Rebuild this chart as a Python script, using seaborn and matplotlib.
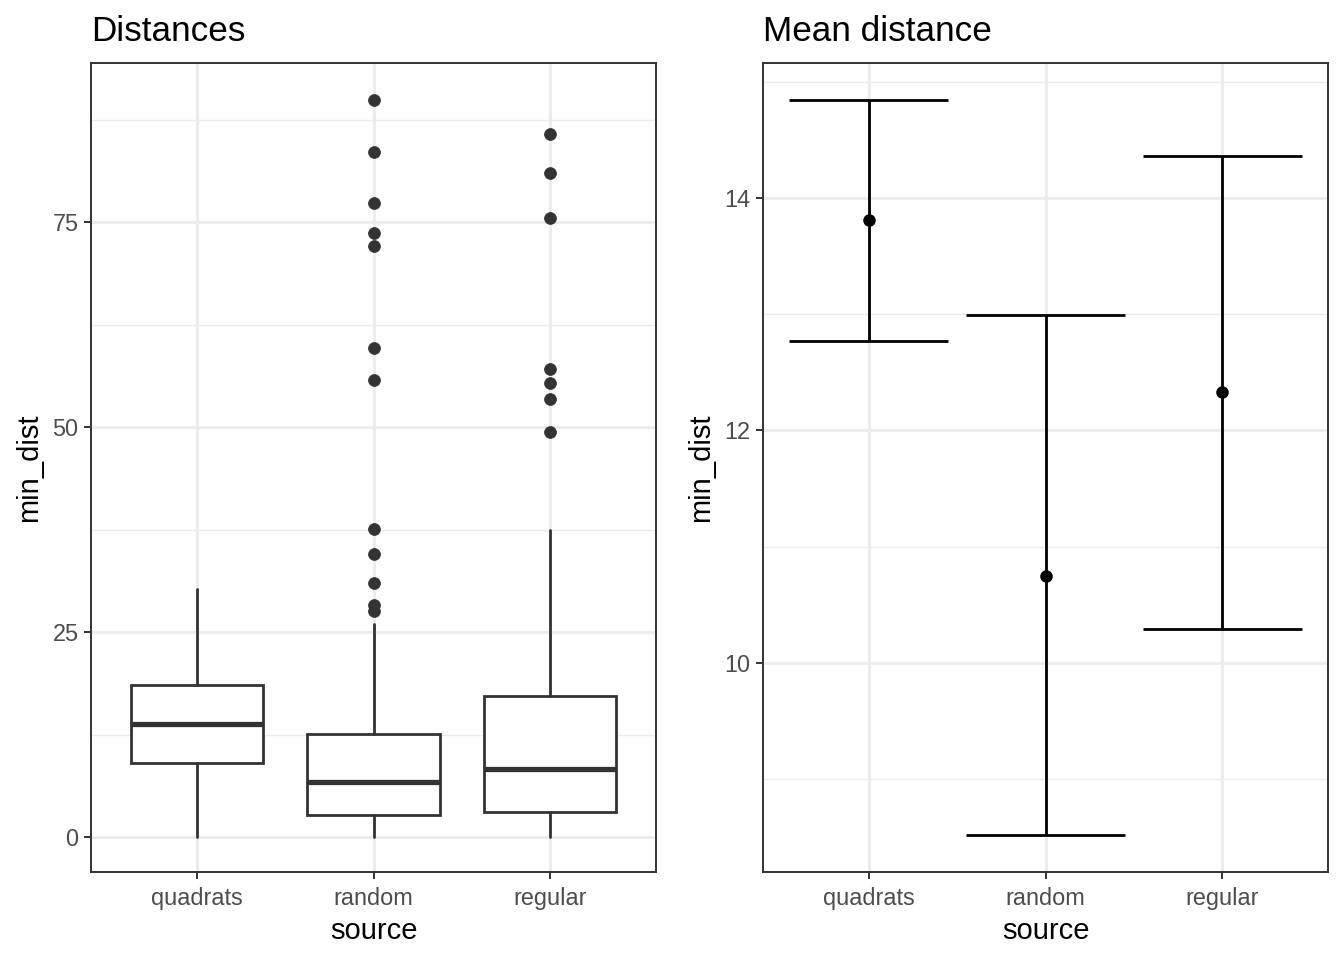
import matplotlib
matplotlib.use("Agg")
import matplotlib.pyplot as plt
import seaborn as sns
import numpy as np
import pandas as pd

# ---- data ----
categories = ["quadrats", "random", "regular"]
box_q1 = [9.05, 2.65, 3.0]
box_median = [13.8, 6.7, 8.35]
box_q3 = [18.5, 12.55, 17.2]
whisker_low = [0.0, 0.0, 0.0]
whisker_high = [30.3, 26.0, 37.4]
fliers_quadrats = []
fliers_random = [89.9, 83.6, 77.3, 73.7, 72.1, 59.6, 55.7, 37.6, 34.5, 31.0, 28.3, 27.6]
fliers_regular = [85.7, 81.0, 75.5, 57.1, 55.4, 53.4, 49.4]

mean_dist = [13.81, 10.75, 12.33]
ci_low = [12.77, 8.52, 10.29]
ci_high = [14.84, 12.99, 14.36]

# ---- style ----
sns.set_theme(style="white")
plt.rcParams["font.family"] = ["Liberation Sans", "DejaVu Sans"]

GRID = "#EBEBEB"
DARK = "#333333"
TICKTXT = "#4D4D4D"

fig = plt.figure(figsize=(13.44, 9.6), dpi=100)
axL = fig.add_axes([91 / 1344, 1 - 872 / 960, 565 / 1344, 809 / 960])
axR = fig.add_axes([763 / 1344, 1 - 872 / 960, 565 / 1344, 809 / 960])

def style_axes(ax, major, minor, ylim):
    ax.set_xlim(-0.6, 2.6)
    ax.set_ylim(*ylim)
    ax.set_xticks(range(len(categories)))
    ax.set_xticklabels(categories)
    ax.set_yticks(major)
    ax.set_yticks(minor, minor=True)
    ax.set_axisbelow(True)
    for v in minor:
        ax.axhline(v, color=GRID, lw=1.0, zorder=0)
    for v in major:
        ax.axhline(v, color=GRID, lw=2.0, zorder=0)
    for v in range(len(categories)):
        ax.axvline(v, color=GRID, lw=2.0, zorder=0)
    for s in ax.spines.values():
        s.set_visible(True)
        s.set_color(DARK)
        s.set_linewidth(1.4)
    ax.tick_params(axis="both", which="major", length=5, width=1.4, color=DARK,
                   labelsize=16.9, labelcolor=TICKTXT, pad=4, left=True, bottom=True)
    ax.tick_params(axis="x", which="major", pad=5.5)
    ax.tick_params(axis="y", which="minor", length=0)
    ax.grid(False)
    ax.set_xlabel("source", fontsize=21, color="black", labelpad=5)
    ax.set_ylabel("min_dist", fontsize=21, color="black", labelpad=7)

# ---- left: boxplots ----
fliers = [fliers_quadrats, fliers_random, fliers_regular]
stats = []
for i, c in enumerate(categories):
    stats.append(dict(label=c, q1=box_q1[i], med=box_median[i], q3=box_q3[i],
                      whislo=whisker_low[i], whishi=whisker_high[i],
                      fliers=np.array(fliers[i])))
axL.bxp(stats, positions=range(len(categories)), widths=0.75, showcaps=False,
        patch_artist=True,
        boxprops=dict(facecolor="white", edgecolor=DARK, linewidth=2.0),
        medianprops=dict(color=DARK, linewidth=3.8, solid_capstyle="butt"),
        whiskerprops=dict(color=DARK, linewidth=2.0),
        flierprops=dict(marker="o", markerfacecolor=DARK, markeredgecolor=DARK,
                        markersize=8.6, markeredgewidth=0.5))
style_axes(axL, [0, 25, 50, 75], [12.5, 37.5, 62.5, 87.5], (-4.27, 94.4))
axL.set_title("Distances", loc="left", fontsize=25.3, pad=16, color="black")

# ---- right: mean +/- CI ----
df = pd.DataFrame({"source": categories, "min_dist": mean_dist})
xs = np.arange(len(categories))
axR.vlines(xs, ci_low, ci_high, color="black", lw=2.0, zorder=3)
axR.hlines(ci_low, xs - 0.45, xs + 0.45, color="black", lw=2.0, zorder=3)
axR.hlines(ci_high, xs - 0.45, xs + 0.45, color="black", lw=2.0, zorder=3)
sns.stripplot(data=df, x="source", y="min_dist", ax=axR, jitter=False,
              color="black", size=9, linewidth=0, zorder=4)
style_axes(axR, [10, 12, 14], [9, 11, 13, 15], (8.2, 15.16))
axR.set_title("Mean distance", loc="left", fontsize=25.3, pad=16, color="black")

fig.savefig("out.png", dpi=100)
